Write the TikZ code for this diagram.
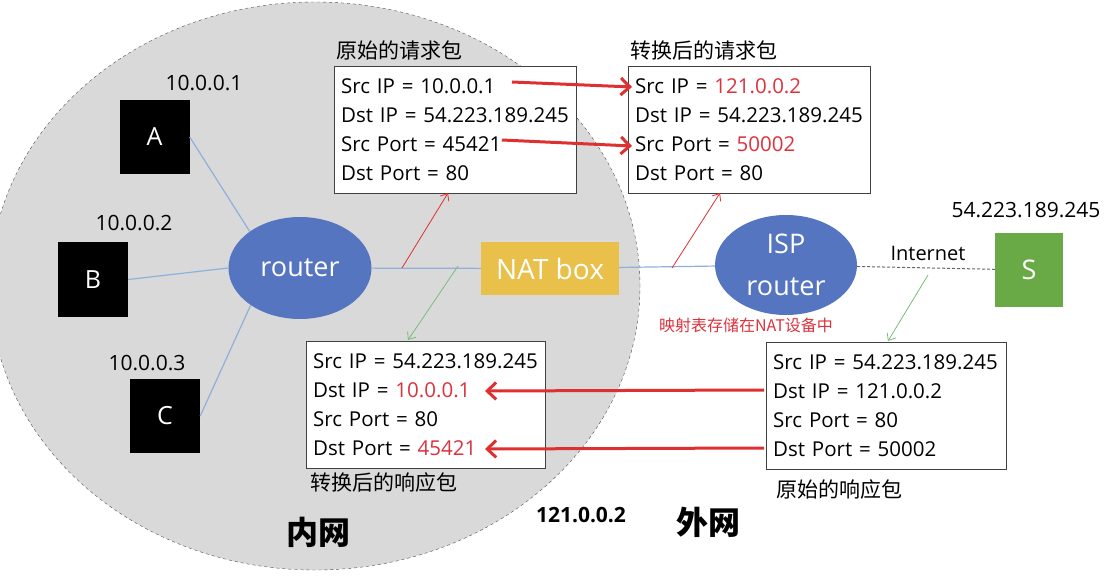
\documentclass[tikz,border=0pt]{standalone}
\usepackage{fontspec}
\setmainfont{Open Sans}
\newfontfamily\cjk{Noto Sans CJK SC}
\usetikzlibrary{arrows,arrows.meta,shapes.geometric,positioning}

\definecolor{langray}{RGB}{217,217,217}
\definecolor{rtrblue}{RGB}{86,117,192}
\definecolor{linkblue}{RGB}{143,176,219}
\definecolor{natyellow}{RGB}{233,192,74}
\definecolor{srvgreen}{RGB}{106,170,70}
\definecolor{mapred}{RGB}{222,48,48}
\definecolor{valred}{RGB}{220,50,60}
\definecolor{hopgreen}{RGB}{120,190,120}

\tikzstyle{host} = [fill=black, text=white, minimum width=70, minimum height=74, font=\fontsize{25}{28}\selectfont]
\tikzstyle{rtr} = [ellipse, fill=rtrblue, text=white, minimum width=143, minimum height=102, inner sep=0, align=center, font=\fontsize{27}{42}\selectfont]
\tikzstyle{ip} = [font=\fontsize{21}{24}\selectfont]
\tikzstyle{pkt} = [draw=black!75, fill=white, anchor=north west, align=left, text width=228, inner xsep=7, minimum height=127, font=\fontsize{20.5}{29}\selectfont]
\tikzstyle{title} = [font=\cjk\fontsize{21}{24}\selectfont, inner sep=2]
\tikzstyle{link} = [draw=linkblue, line width=1.2]
\tikzstyle{map} = [->, >={Straight Barb[length=9, width=17]}, draw=mapred, line width=3]
\tikzstyle{hop} = [->, >={Straight Barb[length=6, width=10]}, line width=0.8]

\begin{document}
\begin{tikzpicture}[x=1pt, y=-1pt]
\useasboundingbox (0,0) rectangle (1111,580);

% Inner network
\node (lan) [ellipse, draw=black!70, dashed, fill=langray, minimum width=650, minimum height=568] at (315,286) {};
\node (inner) [font=\cjk\bfseries\fontsize{32}{36}\selectfont] at (318,532) {内网};
\node (outer) [font=\cjk\bfseries\fontsize{32}{36}\selectfont] at (708,522) {外网};
\node (pubip) [font=\bfseries\fontsize{21}{24}\selectfont] at (581,515) {121.0.0.2};

% Nodes
\node (A) [host] at (154.5,137) {A};
\node (B) [host] at (93,279.5) {B};
\node (C) [host] at (165,416) {C};
\node (ipA) [ip] at (204,83) {10.0.0.1};
\node (ipB) [ip] at (134,223) {10.0.0.2};
\node (ipC) [ip] at (147,363) {10.0.0.3};
\node (router) [rtr] at (300,268) {router};
\node (nat) [fill=natyellow, text=white, minimum width=138, minimum height=52, font=\fontsize{28}{32}\selectfont] at (550,268.5) {NAT box};
\node (isp) [rtr, minimum width=142, minimum height=100] at (786,265) {ISP\\router};
\node (S) [fill=srvgreen, text=white, minimum width=68, minimum height=73, font=\fontsize{27}{30}\selectfont] at (1029,270) {S};
\node (ipS) [ip] at (1026,210) {54.223.189.245};
\node (inet) [font=\fontsize{20}{24}\selectfont] at (928,253) {Internet};
\node (table) [font=\cjk\fontsize{16}{18}\selectfont, text=valred] at (746,325) {映射表存储在NAT设备中};

% Packets
\node (req) [pkt] at (334,66) {Src IP = 10.0.0.1\\ Dst IP = 54.223.189.245\\ Src Port = 45421\\ Dst Port = 80};
\node (reqnat) [pkt] at (628,66) {Src IP = \textcolor{valred}{121.0.0.2}\\ Dst IP = 54.223.189.245\\ Src Port = \textcolor{valred}{50002}\\ Dst Port = 80};
\node (resnat) [pkt, text width=225] at (306,341) {Src IP = 54.223.189.245\\ Dst IP = \textcolor{valred}{10.0.0.1}\\ Src Port = 80\\ Dst Port = \textcolor{valred}{45421}};
\node (res) [pkt, text width=226] at (766,342) {Src IP = 54.223.189.245\\ Dst IP = 121.0.0.2\\ Src Port = 80\\ Dst Port = 50002};
\node (reqtitle) [title, anchor=south west] at ([yshift=4]req.north west) {原始的请求包};
\node (reqnattitle) [title, anchor=south west] at ([yshift=4]reqnat.north west) {转换后的请求包};
\node (resnattitle) [title, anchor=north west] at ([xshift=2, yshift=-2]resnat.south west) {转换后的响应包};
\node (restitle) [title, anchor=north west] at ([xshift=8, yshift=-8]res.south west) {原始的响应包};

% Arrow ends
\coordinate (reqout) at (402,268);
\coordinate (reqin) at (448,193);
\coordinate (natout) at (672,268);
\coordinate (natin) at (720,193);
\coordinate (resout) at (458,266);
\coordinate (resin) at (408,340);
\coordinate (inetout) at (928,275);
\coordinate (inetin) at (888,341);
\coordinate (srcipfrom) at (512,82);
\coordinate (srcipto) at (632,87);
\coordinate (srcportfrom) at (502,140);
\coordinate (srcportto) at (632,146);
\coordinate (dstipfrom) at (764,390);
\coordinate (dstipto) at (485,391);
\coordinate (dstportfrom) at (764,448);
\coordinate (dstportto) at (485,449);

% Links
\draw [link] (A.east) -- (router.144);
\draw [link] (B.east) -- (router.west);
\draw [link] (C.east) -- (router.217);
\draw [link] (router) -- (nat);
\draw [link] (nat) -- (isp);
\draw [densely dashed, draw=black!60, line width=1] (isp) -- (S);

% Arrows
\draw [hop, mapred] (reqout) -- (reqin);
\draw [hop, mapred] (natout) -- (natin);
\draw [hop, hopgreen] (resout) -- (resin);
\draw [hop, hopgreen] (inetout) -- (inetin);
\draw [map] (srcipfrom) -- (srcipto);
\draw [map] (srcportfrom) -- (srcportto);
\draw [map] (dstipfrom) -- (dstipto);
\draw [map] (dstportfrom) -- (dstportto);

\end{tikzpicture}
\end{document}
